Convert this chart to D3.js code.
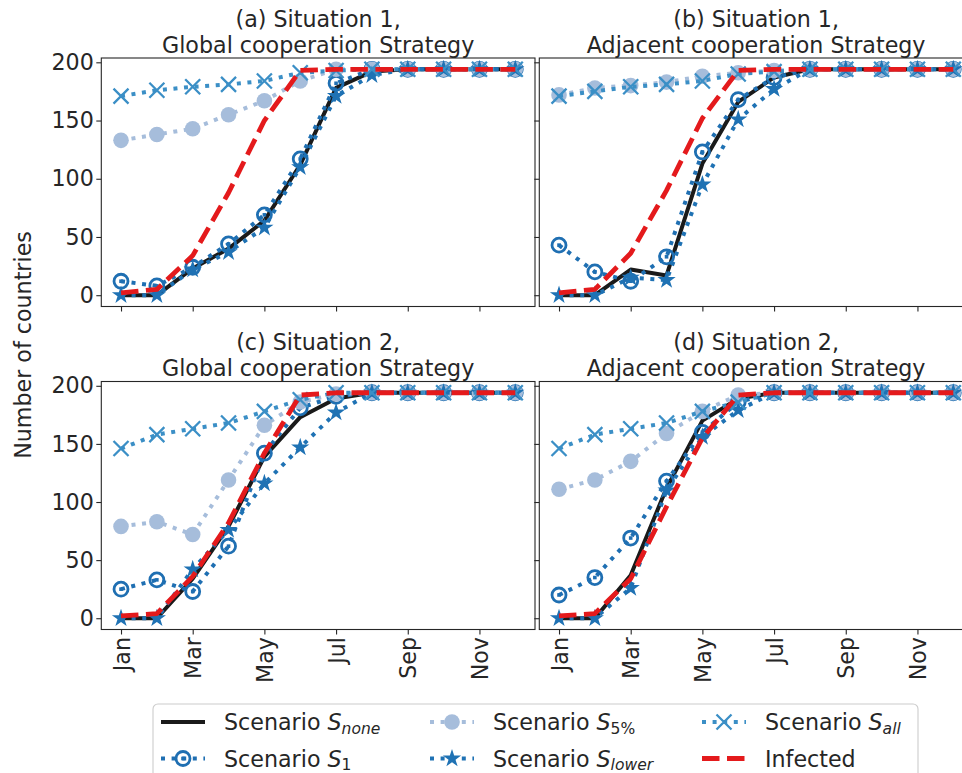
<!DOCTYPE html>
<html>
<head>
<meta charset="utf-8">
<script src="https://cdn.jsdelivr.net/npm/d3@7"></script>
<style>
body { margin: 0; background: #fff; overflow: hidden; }
text { font-family: "DejaVu Sans", sans-serif; fill: #262626; }
</style>
</head>
<body>
<svg id="chart"></svg>
<script>
// month index 0..11 = Jan..Dec, ticks every other month
var monthTicks = [0, 2, 4, 6, 8, 10];
var monthLabels = ['Jan', 'Mar', 'May', 'Jul', 'Sep', 'Nov'];
var yTicks = [0, 50, 100, 150, 200];

// (a) Situation 1, global
var noneA  = [0, 0, 23, 40, 64, 112, 178, 192, 194, 194, 194, 194];
var s1A    = [12, 8, 24, 44, 69, 117, 182, 194, 194, 194, 194, 194];
var s5A    = [133, 138, 143, 155, 167, 184, 194, 194, 194, 194, 194, 194];
var lowerA = [0, 0, 22, 37, 58, 110, 171, 189, 194, 194, 194, 194];
var allA   = [171, 176, 179, 181, 184, 191, 193, 194, 194, 194, 194, 194];
var infA   = [2, 5, 34, 88, 150, 193, 194, 194, 194, 194, 194, 194];

// (b) Situation 1, adjacent
var noneB  = [0, 0, 22, 17, 113, 166, 187, 194, 194, 194, 194, 194];
var s1B    = [43, 20, 12, 33, 123, 168, 187, 194, 194, 194, 194, 194];
var s5B    = [172, 178, 180, 183, 188, 191, 193, 194, 194, 194, 194, 194];
var lowerB = [0, 0, 15, 13, 95, 151, 177, 194, 194, 194, 194, 194];
var allB   = [171, 175, 179, 181, 184, 190, 192, 194, 194, 194, 194, 194];
var infB   = [2, 5, 36, 90, 152, 193, 194, 194, 194, 194, 194, 194];

// (c) Situation 2, global
var noneC  = [0, 0, 34, 79, 139, 173, 189, 194, 194, 194, 194, 194];
var s1C    = [25, 33, 23, 62, 142, 181, 191, 194, 194, 194, 194, 194];
var s5C    = [79, 83, 72, 119, 166, 186, 193, 194, 194, 194, 194, 194];
var lowerC = [0, 0, 42, 76, 116, 147, 177, 194, 194, 194, 194, 194];
var allC   = [146, 158, 163, 168, 178, 188, 194, 194, 194, 194, 194, 194];
var infC   = [2, 4, 36, 82, 142, 192, 194, 194, 194, 194, 194, 194];

// (d) Situation 2, adjacent
var noneD  = [0, 0, 37, 112, 170, 189, 194, 194, 194, 194, 194, 194];
var s1D    = [20, 35, 69, 118, 160, 186, 194, 194, 194, 194, 194, 194];
var s5D    = [111, 119, 135, 159, 178, 192, 194, 194, 194, 194, 194, 194];
var lowerD = [0, 0, 26, 110, 156, 179, 194, 194, 194, 194, 194, 194];
var allD   = [146, 158, 163, 168, 178, 186, 194, 194, 194, 194, 194, 194];
var infD   = [2, 4, 34, 96, 155, 192, 194, 194, 194, 194, 194, 194];

var W = 962, H = 773;
var FS = 22.2;

// series styles, drawn in this order
var styles = {
  none:  { color: '#1a1a1a', width: 4,   dash: null,       marker: null },
  s1:    { color: '#1f6fb2', width: 4,   dash: '4,6.6',    marker: 'ocircle' },
  s5:    { color: '#a6bddb', width: 4,   dash: '4,6.6',    marker: 'circle' },
  lower: { color: '#1f72b4', width: 4,   dash: '4,6.6',    marker: 'star' },
  all:   { color: '#3b8fc6', width: 4,   dash: '4,6.6',    marker: 'x' },
  inf:   { color: '#e41a1c', width: 4.8, dash: '17.5,7.5', marker: null }
};
var order = ['none', 's1', 's5', 'lower', 'all', 'inf'];

var panels = [
  { id: 'a', title: ['(a) Situation 1,', 'Global cooperation Strategy'], col: 0, row: 0,
    data: { none: noneA, s1: s1A, s5: s5A, lower: lowerA, all: allA, inf: infA } },
  { id: 'b', title: ['(b) Situation 1,', 'Adjacent cooperation Strategy'], col: 1, row: 0,
    data: { none: noneB, s1: s1B, s5: s5B, lower: lowerB, all: allB, inf: infB } },
  { id: 'c', title: ['(c) Situation 2,', 'Global cooperation Strategy'], col: 0, row: 1,
    data: { none: noneC, s1: s1C, s5: s5C, lower: lowerC, all: allC, inf: infC } },
  { id: 'd', title: ['(d) Situation 2,', 'Adjacent cooperation Strategy'], col: 1, row: 1,
    data: { none: noneD, s1: s1D, s5: s5D, lower: lowerD, all: allD, inf: infD } }
];

var colX = [[101.3, 535], [539.3, 973]];
var rowY = [[306.5, 58], [629.5, 381.5]];

var svg = d3.select('#chart').attr('width', W).attr('height', H);
svg.append('rect').attr('width', W).attr('height', H).attr('fill', '#fff');

function starPath(R) {
  var r = R * 0.381966, pts = [];
  for (var k = 0; k < 10; k++) {
    var a = -Math.PI / 2 + k * Math.PI / 5;
    var rr = k % 2 === 0 ? R : r;
    pts.push([rr * Math.cos(a), rr * Math.sin(a)]);
  }
  return 'M' + pts.map(function(p) { return p[0].toFixed(2) + ',' + p[1].toFixed(2); }).join('L') + 'Z';
}

function drawMarker(g, type, color) {
  if (type === 'circle') {
    g.append('circle').attr('r', 7.8).attr('fill', color);
  } else if (type === 'ocircle') {
    g.append('circle').attr('r', 7).attr('fill', 'none').attr('stroke', color).attr('stroke-width', 2.8);
    g.append('rect').attr('x', -1.8).attr('y', -1.8).attr('width', 3.6).attr('height', 3.6).attr('fill', color);
  } else if (type === 'star') {
    g.append('path').attr('d', starPath(9.6)).attr('fill', color);
  } else if (type === 'x') {
    g.append('path').attr('d', 'M-7.5,-7.5L7.5,7.5M-7.5,7.5L7.5,-7.5')
      .attr('stroke', color).attr('stroke-width', 2.3).attr('fill', 'none');
  }
}

panels.forEach(function(p) {
  var x = d3.scaleLinear().domain([-0.55, 11.55]).range(colX[p.col]);
  var y = d3.scaleLinear().domain([-9.7, 203.7]).range(rowY[p.row]);
  var x0 = colX[p.col][0], x1 = colX[p.col][1];
  var yb = rowY[p.row][0], yt = rowY[p.row][1];

  var g = svg.append('g').attr('class', 'panel-' + p.id);

  svg.append('clipPath').attr('id', 'clip-' + p.id)
    .append('rect').attr('x', x0).attr('y', yt).attr('width', x1 - x0).attr('height', yb - yt);

  // y axis
  var yAxis = d3.axisLeft(y).tickValues(yTicks).tickSize(5).tickPadding(2.5);
  if (p.col === 1) yAxis.tickFormat('');
  var ya = g.append('g').attr('transform', 'translate(' + x0 + ',0)').call(yAxis);
  ya.select('.domain').remove();
  ya.selectAll('line').attr('stroke', '#262626').attr('stroke-width', 1.1);
  ya.selectAll('text').attr('font-size', FS).attr('fill', '#262626')
    .attr('font-family', '"DejaVu Sans", sans-serif');

  // x axis
  var xAxis = d3.axisBottom(x).tickValues(monthTicks).tickSize(5)
    .tickFormat(function(d) { return monthLabels[monthTicks.indexOf(d)]; });
  if (p.row === 0) xAxis.tickFormat('');
  var xa = g.append('g').attr('transform', 'translate(0,' + yb + ')').call(xAxis);
  xa.select('.domain').remove();
  xa.selectAll('line').attr('stroke', '#262626').attr('stroke-width', 1.1);
  xa.selectAll('text').attr('font-size', FS).attr('fill', '#262626')
    .attr('font-family', '"DejaVu Sans", sans-serif')
    .attr('transform', 'rotate(-90)')
    .attr('text-anchor', 'end')
    .attr('x', -7.5).attr('y', 0).attr('dy', '0.36em');

  // series
  var plot = g.append('g').attr('clip-path', 'url(#clip-' + p.id + ')');
  order.forEach(function(key) {
    var st = styles[key];
    var vals = p.data[key];
    var line = d3.line().x(function(d, i) { return x(i); }).y(function(d) { return y(d); });
    var path = plot.append('path').datum(vals)
      .attr('d', line)
      .attr('fill', 'none')
      .attr('stroke', st.color)
      .attr('stroke-width', st.width)
      .attr('stroke-linejoin', 'round');
    if (st.dash) path.attr('stroke-dasharray', st.dash).attr('stroke-linecap', 'butt');
    else path.attr('stroke-linecap', 'square');
    if (st.marker) {
      plot.append('g').selectAll('g').data(vals).enter().append('g')
        .attr('transform', function(d, i) { return 'translate(' + x(i) + ',' + y(d) + ')'; })
        .each(function() { drawMarker(d3.select(this), st.marker, st.color); });
    }
  });

  // frame
  g.append('rect').attr('x', x0).attr('y', yt).attr('width', x1 - x0).attr('height', yb - yt)
    .attr('fill', 'none').attr('stroke', '#262626').attr('stroke-width', 1.1);

  // title
  var cx = (x0 + x1) / 2;
  g.append('text').attr('x', cx).attr('y', yt - 31.5).attr('text-anchor', 'middle')
    .attr('font-size', FS).text(p.title[0]);
  g.append('text').attr('x', cx).attr('y', yt - 5.5).attr('text-anchor', 'middle')
    .attr('font-size', FS).text(p.title[1]);
});

// y label
svg.append('text')
  .attr('transform', 'translate(31,345) rotate(-90)')
  .attr('text-anchor', 'middle')
  .attr('font-size', FS)
  .text('Number of countries');

// legend
var legendItems = [
  { key: 'none',  label: 'Scenario ', sub: 'none',  subItalic: true,  col: 0, row: 0 },
  { key: 's1',    label: 'Scenario ', sub: '1',     subItalic: false, col: 0, row: 1 },
  { key: 's5',    label: 'Scenario ', sub: '5%',    subItalic: false, col: 1, row: 0 },
  { key: 'lower', label: 'Scenario ', sub: 'lower', subItalic: true,  col: 1, row: 1 },
  { key: 'all',   label: 'Scenario ', sub: 'all',   subItalic: true,  col: 2, row: 0 },
  { key: 'inf',   label: 'Infected',  sub: null,    subItalic: false, col: 2, row: 1 }
];
var legendColX = [161, 430, 702];
var legendRowY = [722, 758.5];

var lg = svg.append('g').attr('class', 'legend');
lg.append('rect').attr('x', 153).attr('y', 704).attr('width', 765).attr('height', 110)
  .attr('rx', 5).attr('fill', '#fff').attr('fill-opacity', 0.8)
  .attr('stroke', '#cccccc').attr('stroke-width', 1.1);

legendItems.forEach(function(it) {
  var st = styles[it.key];
  var hx = legendColX[it.col], hy = legendRowY[it.row];
  var ln = lg.append('line').attr('x1', hx).attr('x2', hx + 44).attr('y1', hy).attr('y2', hy)
    .attr('stroke', st.color).attr('stroke-width', st.width);
  if (st.dash) ln.attr('stroke-dasharray', st.dash);
  if (st.marker) {
    var mg = lg.append('g').attr('transform', 'translate(' + (hx + 22) + ',' + hy + ')');
    drawMarker(mg, st.marker, st.color);
  }
  var t = lg.append('text').attr('x', hx + 63).attr('y', hy + 8).attr('font-size', FS);
  t.append('tspan').text(it.label);
  if (it.sub !== null) {
    t.append('tspan').attr('font-style', 'italic').text('S');
    t.append('tspan').attr('font-size', FS * 0.7).attr('dy', 3.5)
      .attr('font-style', it.subItalic ? 'italic' : 'normal').text(it.sub);
  }
});
</script>
</body>
</html>
